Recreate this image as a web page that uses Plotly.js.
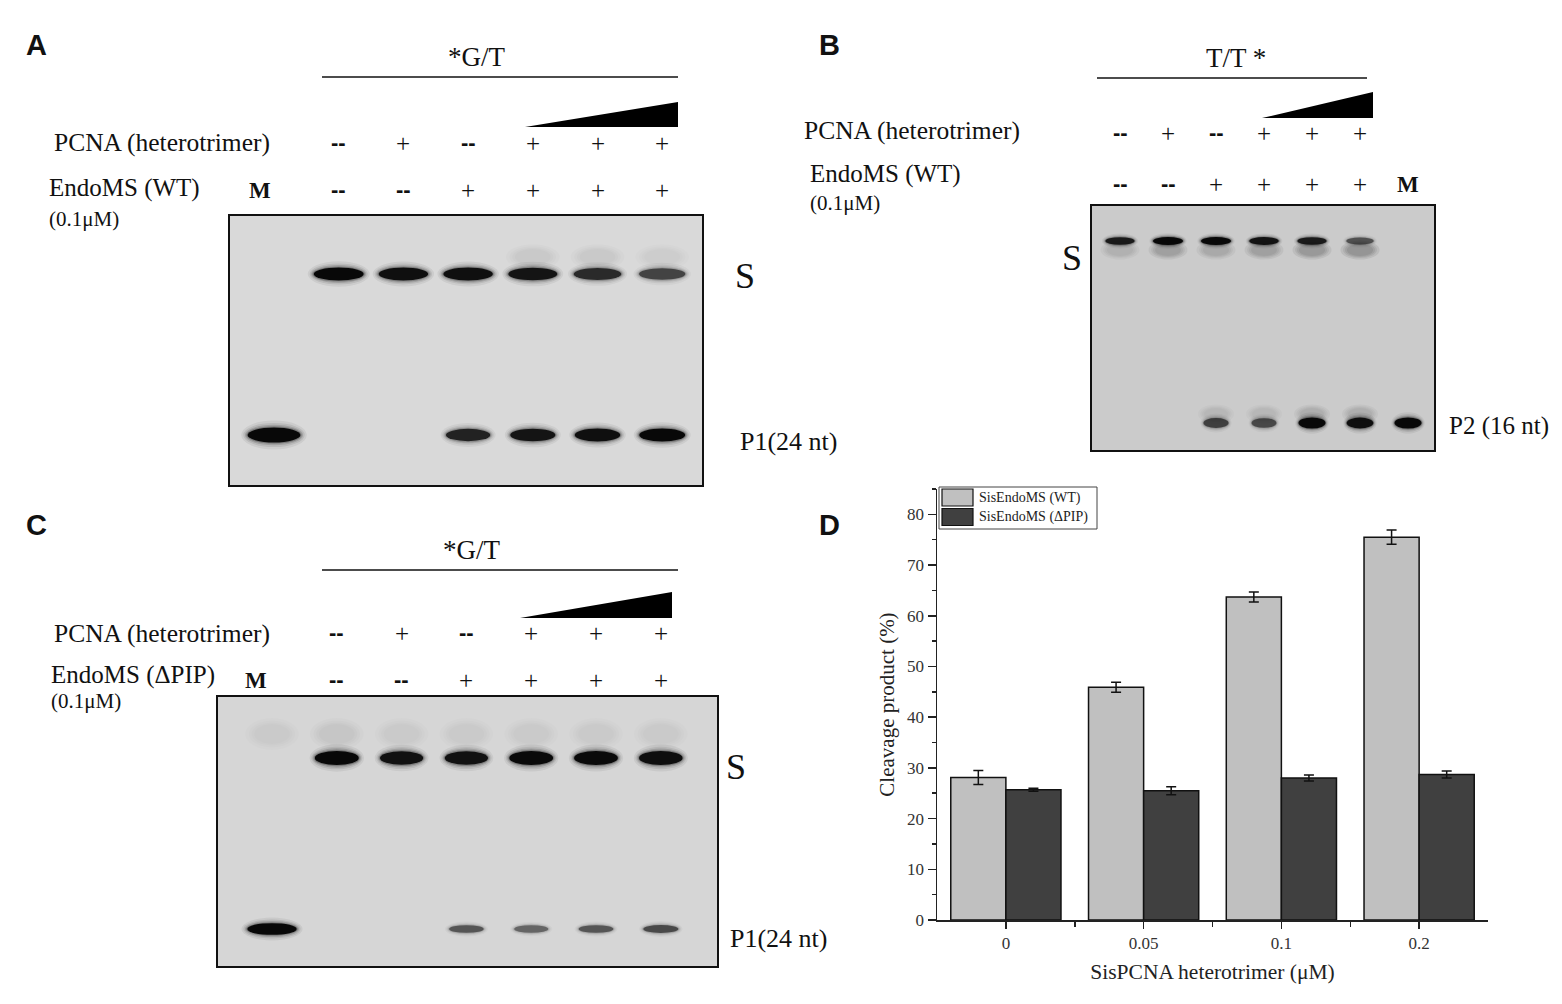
<!DOCTYPE html>
<html><head><meta charset="utf-8">
<script src="https://cdn.plot.ly/plotly-3.0.1.min.js"></script>
<style>html,body{margin:0;padding:0;background:#fff}</style>
</head><body><div id="fig" style="width:1562px;height:1004px"></div>
<script>
// ================= DATA =================
// Panel D (bar chart)
const concLabels = ['0', '0.05', '0.1', '0.2'];
const seriesNames = ['SisEndoMS (WT)', 'SisEndoMS (ΔPIP)'];
const seriesColors = ['#c0c0c0', '#404040'];
const wtValues = [28.1, 45.9, 63.7, 75.5];
const wtErrors = [1.4, 1.0, 1.0, 1.4];
const dpipValues = [25.7, 25.5, 28.0, 28.7];
const dpipErrors = [0.3, 0.8, 0.6, 0.7];

// Panel A gel (*G/T, EndoMS WT) lanes: M,1..6
const pcnaRowA = ['', '--', '+', '--', '+', '+', '+'];
const endoRowA = ['', '--', '--', '+', '+', '+', '+'];
const substrateA = [0, 1.0, 0.95, 0.95, 0.9, 0.75, 0.6];
const smearA = [0, 0, 0, 0, 0.016, 0.016, 0.013];
const productA = [1.0, 0, 0, 0.8, 0.9, 0.95, 1.0];

// Panel B gel (T/T*, EndoMS WT) lanes: 1..6,M
const pcnaRowB = ['--', '+', '--', '+', '+', '+', ''];
const endoRowB = ['--', '--', '+', '+', '+', '+', 'M'];
const substrateB = [0.85, 1.0, 1.0, 0.9, 0.85, 0.5, 0];
const substrateLowB = [0.03, 0.055, 0.045, 0.055, 0.07, 0.08, 0];
const productGlowB = [0, 0, 0.025, 0.025, 0.035, 0.035, 0];
const productB = [0, 0, 0.6, 0.55, 1.0, 0.95, 1.0];

// Panel C gel (*G/T, EndoMS ΔPIP) lanes: M,1..6
const pcnaRowC = ['', '--', '+', '--', '+', '+', '+'];
const endoRowC = ['', '--', '--', '+', '+', '+', '+'];
const substrateC = [0, 1.0, 0.92, 0.92, 0.98, 0.98, 0.95];
const smearC = [0.01, 0.014, 0.012, 0.012, 0.012, 0.012, 0.012];
const productC = [1.0, 0, 0, 0.5, 0.42, 0.5, 0.56];

// ================= HELPERS =================
const W = 1562, H = 1004;
const X = px => px / W;
const Y = py => 1 - py / H;
const SERIF = 'Liberation Serif, Times New Roman, serif';
const SANS = 'Liberation Sans, Arial, sans-serif';

const traces = [];
const shapes = [];
const annotations = [];
const layout = {};

function txt(px, py, text, size, opt) {
  opt = opt || {};
  annotations.push({
    xref: 'paper', yref: 'paper', x: X(px), y: Y(py), text: text, showarrow: false,
    xanchor: opt.anchor || 'center', yanchor: 'middle',
    font: { family: opt.family || SERIF, size: size, color: opt.color || '#111' }
  });
}
function hline(x0, x1, py) {
  shapes.push({ type: 'line', xref: 'paper', yref: 'paper', x0: X(x0), x1: X(x1), y0: Y(py), y1: Y(py),
    line: { color: '#111', width: 1.6 } });
}
function wedge(x0, x1, yTop, yBot) {
  shapes.push({ type: 'path', xref: 'paper', yref: 'paper',
    path: `M ${X(x0)},${Y(yBot)} L ${X(x1)},${Y(yTop)} L ${X(x1)},${Y(yBot)} Z`,
    fillcolor: '#000', line: { width: 0 } });
}

function gel(g) {
  const sfx = g.n === 1 ? '' : String(g.n);
  const xr = 'x' + sfx, yr = 'y' + sfx;
  const hpx = g.bottom - g.top;
  layout['xaxis' + sfx] = { domain: [X(g.left), X(g.right)], range: [(g.left - g.lane0) / g.sp, (g.right - g.lane0) / g.sp],
    visible: false, fixedrange: true, anchor: yr };
  layout['yaxis' + sfx] = { domain: [Y(g.bottom), Y(g.top)], range: [hpx, 0], visible: false, fixedrange: true, anchor: xr };
  traces.push({ type: 'scatter', mode: 'markers', x: [0], y: [0], xaxis: xr, yaxis: yr,
    marker: { opacity: 0 }, hoverinfo: 'skip', showlegend: false });
  shapes.push({ type: 'rect', xref: xr + ' domain', yref: yr + ' domain', x0: 0, x1: 1, y0: 0, y1: 1,
    fillcolor: g.bg, line: { width: 0 }, layer: 'below' });
  const layers = [[1.24, 1.95, 0.06], [1.16, 1.62, 0.09], [1.10, 1.38, 0.14], [1.05, 1.17, 0.24], [1, 1, 1]];
  const softLayers = [[1.5, 1.6], [1.3, 1.35], [1.15, 1.15], [1, 1]];
  g.rows.forEach(row => {
    row.values.forEach((v, i) => {
      if (!v) return;
      const big = (i === g.mLane) ? (row.mScale || 1) : 1;
      if (row.soft) {
        softLayers.forEach(L => {
          shapes.push({ type: 'circle', xref: xr, yref: yr,
            x0: i - row.w * L[0] / 2 / g.sp, x1: i + row.w * L[0] / 2 / g.sp,
            y0: row.y - row.h * L[1] / 2, y1: row.y + row.h * L[1] / 2,
            fillcolor: '#080808', opacity: v, line: { width: 0 }, layer: 'below' });
        });
        return;
      }
      const w = row.w * big * (0.82 + 0.18 * v) / g.sp;
      const h = row.h * big * (0.72 + 0.28 * v);
      layers.forEach(L => {
        shapes.push({ type: 'circle', xref: xr, yref: yr,
          x0: i - w * L[0] / 2, x1: i + w * L[0] / 2,
          y0: row.y - h * L[1] / 2, y1: row.y + h * L[1] / 2,
          fillcolor: '#080808', opacity: Math.min(1, v * L[2]), line: { width: 0 }, layer: 'below' });
      });
    });
  });
  shapes.push({ type: 'rect', xref: 'paper', yref: 'paper', x0: X(g.left), x1: X(g.right), y0: Y(g.bottom), y1: Y(g.top),
    line: { color: '#111', width: 2 }, fillcolor: 'rgba(0,0,0,0)' });
  g.headRows.forEach(hr => {
    hr.labels.forEach((s, i) => {
      if (!s) return;
      const isDash = s === '--', isM = s === 'M';
      annotations.push({ xref: xr, yref: 'paper', x: i, y: Y(hr.py + (isDash ? -1 : 0)), showarrow: false,
        xanchor: 'center', yanchor: 'middle',
        text: (isDash || isM) ? '<b>' + s + '</b>' : s,
        font: { family: isDash ? SANS : SERIF, size: isDash ? 22 : (isM ? 23 : 25), color: '#111' } });
    });
  });
}

// ================= PANEL A =================
txt(36, 45, '<b>A</b>', 29, { family: SANS });
txt(477, 57, '*G/T', 27);
hline(322, 678, 77);
wedge(525, 678, 102, 127);
txt(52, 143, 'PCNA (heterotrimer)', 25.5, { anchor: 'left' });
txt(47, 188, 'EndoMS (WT)', 25, { anchor: 'left' });
txt(47, 219, '(0.1μM)', 21, { anchor: 'left' });
txt(260, 190, '<b>M</b>', 23);
txt(745, 276, 'S', 36);
txt(738, 441, 'P1(24 nt)', 26, { anchor: 'left' });
gel({ n: 1, left: 229, right: 703, top: 215, bottom: 486, lane0: 274, sp: 64.7, bg: '#d9d9d9', mLane: 0,
  rows: [
    { y: 59, w: 50, h: 13, values: substrateA },
    { y: 42, w: 36, h: 16, values: smearA, soft: true },
    { y: 220, w: 46, h: 13, values: productA, mScale: 1.15 }
  ],
  headRows: [{ py: 144, labels: pcnaRowA }, { py: 190, labels: endoRowA }] });

// ================= PANEL B =================
txt(829, 45, '<b>B</b>', 29, { family: SANS });
txt(1236, 58, 'T/T *', 27);
hline(1097, 1367, 78);
wedge(1262, 1373, 92, 118);
txt(802, 130, 'PCNA (heterotrimer)', 25.5, { anchor: 'left' });
txt(808, 174, 'EndoMS (WT)', 25, { anchor: 'left' });
txt(808, 203, '(0.1μM)', 21, { anchor: 'left' });
txt(1072, 258, 'S', 36);
txt(1447, 426, 'P2 (16 nt)', 25, { anchor: 'left' });
gel({ n: 2, left: 1091, right: 1435, top: 205, bottom: 451, lane0: 1120, sp: 48, bg: '#cbcbcb', mLane: 6,
  rows: [
    { y: 45, w: 26, h: 12, values: substrateLowB, soft: true },
    { y: 36, w: 30, h: 8, values: substrateB },
    { y: 209, w: 24, h: 12, values: productGlowB, soft: true },
    { y: 218, w: 27, h: 11, values: productB }
  ],
  headRows: [{ py: 133, labels: pcnaRowB }, { py: 184, labels: endoRowB }] });

// ================= PANEL C =================
txt(36, 525, '<b>C</b>', 29, { family: SANS });
txt(472, 550, '*G/T', 27);
hline(322, 678, 570);
wedge(520, 672, 592, 618);
txt(52, 633, 'PCNA (heterotrimer)', 25.5, { anchor: 'left' });
txt(49, 675, 'EndoMS (ΔPIP)', 25, { anchor: 'left' });
txt(49, 701, '(0.1μM)', 21, { anchor: 'left' });
txt(256, 680, '<b>M</b>', 23);
txt(736, 767, 'S', 36);
txt(728, 938, 'P1(24 nt)', 26, { anchor: 'left' });
gel({ n: 3, left: 217, right: 718, top: 696, bottom: 967, lane0: 272, sp: 64.8, bg: '#d6d6d6', mLane: 0,
  rows: [
    { y: 38, w: 36, h: 20, values: smearC, soft: true },
    { y: 62, w: 44, h: 14, values: substrateC },
    { y: 233, w: 38, h: 9, values: productC, mScale: 1.3 }
  ],
  headRows: [{ py: 633, labels: pcnaRowC }, { py: 680, labels: endoRowC }] });

// ================= PANEL D =================
txt(829, 525, '<b>D</b>', 29, { family: SANS });
const xpos = concLabels.map((_, i) => i);
const seriesVals = [wtValues, dpipValues];
const seriesErr = [wtErrors, dpipErrors];
seriesNames.forEach((nm, k) => {
  traces.push({ type: 'bar', name: nm, x: xpos, y: seriesVals[k], xaxis: 'x4', yaxis: 'y4',
    marker: { color: seriesColors[k], line: { color: '#111', width: 1.5 } },
    error_y: { type: 'data', array: seriesErr[k], visible: true, color: '#111', thickness: 1.5, width: 5 },
    hoverinfo: 'skip', showlegend: false });
});
shapes.push({ type: 'rect', xref: 'paper', yref: 'paper', x0: X(939), x1: X(1097), y0: Y(529), y1: Y(487),
  fillcolor: '#fff', line: { color: '#444', width: 1 } });
seriesNames.forEach((nm, k) => {
  const top = 489 + k * 19.5;
  shapes.push({ type: 'rect', xref: 'paper', yref: 'paper', x0: X(942), x1: X(973), y0: Y(top + 17), y1: Y(top),
    fillcolor: seriesColors[k], line: { color: '#111', width: 1.2 } });
  txt(977, top + 8.5, nm, 14, { anchor: 'left', color: '#222' });
});

layout.xaxis4 = {
  domain: [X(937), X(1488)], anchor: 'y4', range: [-0.5, 3.5],
  tickmode: 'array', tickvals: xpos, ticktext: concLabels,
  ticks: 'outside', ticklen: 7, tickwidth: 1.5, tickcolor: '#222',
  showline: true, linecolor: '#222', linewidth: 1.5, showgrid: false, zeroline: false,
  minor: { tickmode: 'array', tickvals: [0.5, 1.5, 2.5], ticks: 'outside', ticklen: 5, tickwidth: 1.5, tickcolor: '#222' },
  tickfont: { family: SERIF, size: 17, color: '#333' },
  title: { text: 'SisPCNA heterotrimer (μM)', font: { family: SERIF, size: 21.5, color: '#222' }, standoff: 12 },
  fixedrange: true
};
layout.yaxis4 = {
  domain: [Y(920), Y(489)], anchor: 'x4', range: [0, 85],
  tickmode: 'linear', tick0: 0, dtick: 10,
  ticks: 'outside', ticklen: 8, tickwidth: 1.5, tickcolor: '#222',
  minor: { dtick: 5, ticks: 'outside', ticklen: 4, tickwidth: 1.5, tickcolor: '#222' },
  showline: true, linecolor: '#222', linewidth: 1.5, showgrid: false, zeroline: false,
  tickfont: { family: SERIF, size: 17, color: '#333' },
  title: { text: 'Cleavage product (%)', font: { family: SERIF, size: 21, color: '#222' }, standoff: 6 },
  fixedrange: true
};

Object.assign(layout, {
  width: W, height: H,
  margin: { l: 0, r: 0, t: 0, b: 0, pad: 0 },
  paper_bgcolor: '#fff', plot_bgcolor: '#fff',
  barmode: 'group', bargap: 0.2, bargroupgap: 0,
  showlegend: false,
  shapes: shapes, annotations: annotations
});

Plotly.newPlot('fig', traces, layout, { displayModeBar: false, staticPlot: true });
</script></body></html>
